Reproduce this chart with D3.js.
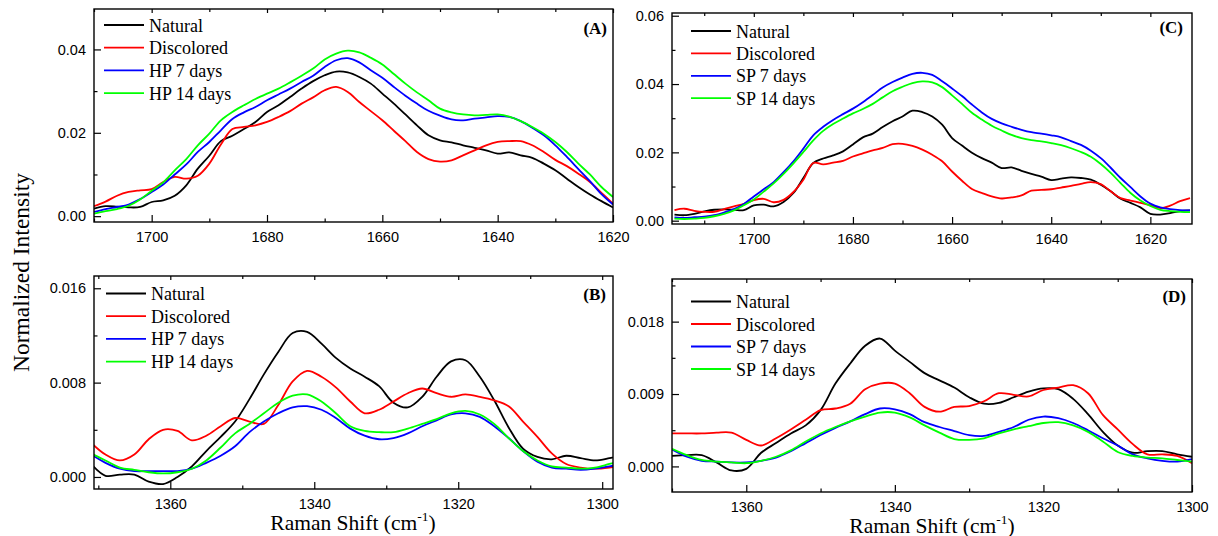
<!DOCTYPE html>
<html>
<head>
<meta charset="utf-8">
<script src="https://cdn.jsdelivr.net/npm/d3@7"></script>
<style>
  body { margin: 0; background: #fff; }
  text { fill: #000; }
</style>
</head>
<body>
<svg id="chart" width="1218" height="536"></svg>
<script>
// ---- data (Raman shift in cm-1, normalized intensity) ----
const namesHP = ["Natural", "Discolored", "HP 7 days", "HP 14 days"];
const namesSP = ["Natural", "Discolored", "SP 7 days", "SP 14 days"];
const colors = ["#000000", "#ff0000", "#0000ff", "#00ff00"];

// (A) amide I, HP
const shiftA = [1710,1708,1706,1704,1702,1700,1698,1696,1694,1692,1690,1688,1686,1684,1682,1680,1678,1676,1674,1672,1670,1668,1666,1664,1662,1660,1658,1656,1654,1652,1650,1648,1646,1644,1642,1640,1638,1636,1634,1632,1630,1628,1626,1624,1622,1620];
const natA = [0.0018,0.0024,0.0023,0.0021,0.0022,0.0034,0.0038,0.0049,0.0074,0.0114,0.0145,0.0180,0.0193,0.0209,0.0226,0.0250,0.0266,0.0286,0.0306,0.0324,0.0338,0.0347,0.0345,0.0334,0.0318,0.0294,0.0270,0.0244,0.0218,0.0194,0.0182,0.0177,0.0170,0.0164,0.0158,0.0150,0.0153,0.0146,0.0140,0.0126,0.0110,0.0090,0.0070,0.0052,0.0036,0.0021];
const disA = [0.0024,0.0035,0.0049,0.0058,0.0062,0.0065,0.0082,0.0094,0.0090,0.0097,0.0126,0.0172,0.0209,0.0214,0.0218,0.0226,0.0238,0.0252,0.0270,0.0285,0.0302,0.0310,0.0298,0.0274,0.0252,0.0230,0.0205,0.0180,0.0154,0.0137,0.0131,0.0134,0.0146,0.0158,0.0170,0.0178,0.0180,0.0180,0.0170,0.0154,0.0135,0.0120,0.0102,0.0082,0.0056,0.0030];
const hp7A = [0.0010,0.0017,0.0022,0.0028,0.0041,0.0058,0.0076,0.0100,0.0124,0.0154,0.0178,0.0206,0.0233,0.0249,0.0262,0.0278,0.0292,0.0306,0.0322,0.0337,0.0358,0.0374,0.0379,0.0369,0.0350,0.0332,0.0310,0.0289,0.0270,0.0253,0.0241,0.0232,0.0230,0.0234,0.0237,0.0240,0.0238,0.0228,0.0212,0.0194,0.0170,0.0142,0.0113,0.0084,0.0053,0.0028];
const hp14A = [0.0006,0.0012,0.0017,0.0025,0.0040,0.0061,0.0081,0.0110,0.0137,0.0170,0.0198,0.0230,0.0250,0.0266,0.0281,0.0294,0.0306,0.0321,0.0337,0.0354,0.0376,0.0390,0.0397,0.0393,0.0380,0.0364,0.0341,0.0318,0.0297,0.0278,0.0258,0.0249,0.0244,0.0242,0.0243,0.0244,0.0239,0.0228,0.0214,0.0198,0.0178,0.0154,0.0126,0.0100,0.0070,0.0046];

// (B) 1300-1370 region, HP
const shiftB = [1371,1369,1367,1365,1363,1361,1359,1357,1355,1353,1351,1349,1347,1345,1343,1341,1339,1337,1335,1333,1331,1329,1327,1325,1323,1321,1319,1317,1315,1313,1311,1309,1307,1305,1303,1301,1299,1297];
const natB = [0.0011,0.0001,0.0002,0.0002,-0.0004,-0.0006,0.0000,0.0009,0.0022,0.0034,0.0047,0.0066,0.0087,0.0106,0.0122,0.0123,0.0113,0.0101,0.0092,0.0085,0.0077,0.0063,0.0059,0.0068,0.0085,0.0098,0.0099,0.0085,0.0065,0.0042,0.0024,0.0017,0.0015,0.0018,0.0016,0.0014,0.0016,0.0019];
const disB = [0.0029,0.0019,0.0014,0.0019,0.0032,0.0040,0.0039,0.0031,0.0035,0.0043,0.0050,0.0047,0.0045,0.0061,0.0081,0.0090,0.0085,0.0076,0.0064,0.0054,0.0057,0.0064,0.0071,0.0075,0.0071,0.0068,0.0070,0.0068,0.0065,0.0060,0.0047,0.0034,0.0020,0.0011,0.0008,0.0007,0.0008,0.0010];
const hp7B = [0.0019,0.0012,0.0007,0.0005,0.0005,0.0005,0.0005,0.0007,0.0012,0.0018,0.0026,0.0038,0.0047,0.0054,0.0059,0.0060,0.0057,0.0050,0.0041,0.0035,0.0032,0.0033,0.0037,0.0043,0.0048,0.0053,0.0054,0.0051,0.0043,0.0033,0.0022,0.0013,0.0008,0.0007,0.0006,0.0007,0.0009,0.0011];
const hp14B = [0.0020,0.0014,0.0008,0.0006,0.0004,0.0003,0.0004,0.0007,0.0014,0.0025,0.0037,0.0045,0.0054,0.0063,0.0069,0.0070,0.0064,0.0054,0.0043,0.0039,0.0038,0.0038,0.0041,0.0045,0.0049,0.0054,0.0056,0.0053,0.0045,0.0033,0.0022,0.0014,0.0009,0.0008,0.0007,0.0008,0.0011,0.0014];

// (C) amide I, SP
const shiftC = [1716,1714,1712,1710,1708,1706,1704,1702,1700,1698,1696,1694,1692,1690,1688,1686,1684,1682,1680,1678,1676,1674,1672,1670,1668,1666,1664,1662,1660,1658,1656,1654,1652,1650,1648,1646,1644,1642,1640,1638,1636,1634,1632,1630,1628,1626,1624,1622,1620,1618,1616,1614,1612];
const natC = [0.0018,0.0016,0.0020,0.0027,0.0032,0.0033,0.0032,0.0031,0.0045,0.0047,0.0042,0.0055,0.0081,0.0125,0.0169,0.0182,0.0191,0.0203,0.0223,0.0244,0.0255,0.0274,0.0291,0.0305,0.0322,0.0318,0.0305,0.0281,0.0242,0.0220,0.0199,0.0183,0.0170,0.0154,0.0156,0.0146,0.0137,0.0129,0.0119,0.0123,0.0127,0.0125,0.0120,0.0105,0.0086,0.0064,0.0052,0.0039,0.0020,0.0018,0.0022,0.0028,0.0030];
const disC = [0.0031,0.0035,0.0029,0.0026,0.0026,0.0034,0.0042,0.0049,0.0060,0.0064,0.0054,0.0061,0.0084,0.0120,0.0169,0.0165,0.0170,0.0175,0.0188,0.0197,0.0206,0.0213,0.0224,0.0225,0.0219,0.0208,0.0193,0.0174,0.0144,0.0117,0.0093,0.0081,0.0071,0.0065,0.0068,0.0074,0.0088,0.0090,0.0092,0.0097,0.0102,0.0108,0.0113,0.0107,0.0086,0.0066,0.0059,0.0052,0.0045,0.0037,0.0044,0.0057,0.0066];
const sp7C = [0.0010,0.0008,0.0010,0.0012,0.0016,0.0024,0.0034,0.0049,0.0071,0.0092,0.0113,0.0142,0.0174,0.0211,0.0250,0.0275,0.0295,0.0312,0.0328,0.0347,0.0368,0.0390,0.0406,0.0419,0.0430,0.0433,0.0427,0.0408,0.0387,0.0365,0.0340,0.0317,0.0298,0.0285,0.0275,0.0266,0.0259,0.0255,0.0250,0.0244,0.0233,0.0222,0.0205,0.0183,0.0155,0.0125,0.0098,0.0071,0.0050,0.0039,0.0034,0.0031,0.0030];
const sp14C = [0.0006,0.0005,0.0006,0.0008,0.0013,0.0020,0.0030,0.0045,0.0062,0.0085,0.0109,0.0137,0.0168,0.0201,0.0235,0.0263,0.0283,0.0299,0.0314,0.0327,0.0342,0.0361,0.0379,0.0392,0.0403,0.0408,0.0405,0.0391,0.0367,0.0342,0.0316,0.0296,0.0278,0.0264,0.0251,0.0242,0.0236,0.0232,0.0227,0.0221,0.0212,0.0201,0.0187,0.0166,0.0140,0.0110,0.0081,0.0059,0.0043,0.0032,0.0028,0.0026,0.0025];

// (D) 1300-1370 region, SP
const shiftD = [1370,1368,1366,1364,1362,1360,1358,1356,1354,1352,1350,1348,1346,1344,1342,1340,1338,1336,1334,1332,1330,1328,1326,1324,1322,1320,1318,1316,1314,1312,1310,1308,1306,1304,1302,1300];
const natD = [0.0013,0.0014,0.0014,0.0005,-0.0005,-0.0003,0.0017,0.0029,0.0041,0.0051,0.0070,0.0103,0.0128,0.0150,0.0159,0.0144,0.0130,0.0116,0.0107,0.0098,0.0086,0.0078,0.0079,0.0086,0.0093,0.0097,0.0096,0.0084,0.0065,0.0043,0.0026,0.0017,0.0019,0.0019,0.0015,0.0012];
const disD = [0.0041,0.0041,0.0041,0.0042,0.0042,0.0033,0.0026,0.0035,0.0046,0.0058,0.0070,0.0072,0.0078,0.0096,0.0103,0.0103,0.0091,0.0074,0.0068,0.0074,0.0075,0.0081,0.0091,0.0089,0.0087,0.0095,0.0098,0.0101,0.0091,0.0064,0.0046,0.0028,0.0015,0.0015,0.0013,0.0004];
const sp7D = [0.0021,0.0012,0.0007,0.0006,0.0005,0.0005,0.0007,0.0011,0.0019,0.0029,0.0039,0.0048,0.0056,0.0065,0.0072,0.0071,0.0065,0.0055,0.0049,0.0044,0.0039,0.0038,0.0043,0.0049,0.0058,0.0062,0.0060,0.0054,0.0045,0.0035,0.0026,0.0015,0.0010,0.0007,0.0006,0.0009];
const sp14D = [0.0022,0.0014,0.0008,0.0006,0.0005,0.0004,0.0007,0.0012,0.0020,0.0031,0.0041,0.0049,0.0056,0.0062,0.0067,0.0067,0.0061,0.0051,0.0042,0.0034,0.0033,0.0035,0.0041,0.0046,0.0050,0.0054,0.0055,0.0051,0.0043,0.0031,0.0018,0.0013,0.0011,0.0010,0.0008,0.0006];

// ---- panel layout ----
const panels = [
  { tag: "(A)", box: [94, 9, 613, 222], xDom: [1710, 1620], yDom: [-0.0014, 0.0497],
    xMajor: [1700, 1680, 1660, 1640, 1620], xMinor: [1710, 1690, 1670, 1650, 1630],
    yMajor: [0, 0.02, 0.04], yMinor: [0.01, 0.03], fmt: ".2f",
    x: shiftA, ys: [natA, disA, hp7A, hp14A], names: namesHP,
    leg: [104, 25, 22.7], tagPos: [607, 34] },
  { tag: "(B)", box: [94, 276, 613, 489], xDom: [1370.6, 1298.5], yDom: [-0.00102, 0.01704],
    xMajor: [1360, 1340, 1320, 1300], xMinor: [1370, 1350, 1330, 1310],
    yMajor: [0, 0.008, 0.016], yMinor: [0.004, 0.012], fmt: ".3f",
    x: shiftB, ys: [natB, disB, hp7B, hp14B], names: namesHP,
    leg: [106, 293.5, 22.7], tagPos: [606, 300] },
  { tag: "(C)", box: [672, 13, 1192, 224], xDom: [1716.5, 1611.6], yDom: [-0.00097, 0.0608],
    xMajor: [1700, 1680, 1660, 1640, 1620], xMinor: [1710, 1690, 1670, 1650, 1630],
    yMajor: [0, 0.02, 0.04, 0.06], yMinor: [0.01, 0.03, 0.05], fmt: ".2f",
    x: shiftC, ys: [natC, disC, sp7C, sp14C], names: namesSP,
    leg: [691, 31, 22.4], tagPos: [1183, 33] },
  { tag: "(D)", box: [672, 279, 1192, 492], xDom: [1370, 1300], yDom: [-0.00318, 0.0233],
    xMajor: [1360, 1340, 1320, 1300], xMinor: [1370, 1350, 1330, 1310],
    yMajor: [0, 0.009, 0.018], yMinor: [0.0045, 0.0135, 0.0225], fmt: ".3f",
    x: shiftD, ys: [natD, disD, sp7D, sp14D], names: namesSP,
    leg: [691, 301.5, 22.5], tagPos: [1186, 302] }
];

const svg = d3.select("#chart");
const tickFont = "'Liberation Sans', Arial, sans-serif";
const serif = "'Liberation Serif', 'Times New Roman', serif";

panels.forEach((p, i) => {
  const [l, t, r, b] = p.box;
  const x = d3.scaleLinear().domain(p.xDom).range([l, r]);
  const y = d3.scaleLinear().domain(p.yDom).range([b, t]);

  const clipId = "clip" + i;
  svg.append("clipPath").attr("id", clipId)
    .append("rect").attr("x", l).attr("y", t).attr("width", r - l).attr("height", b - t);

  // curves
  const line = d3.line()
    .x((d, k) => x(p.x[k]))
    .y(d => y(d))
    .curve(d3.curveCatmullRom.alpha(0.5));

  svg.append("g").attr("clip-path", `url(#${clipId})`)
    .selectAll("path")
    .data(p.ys)
    .join("path")
      .attr("d", line)
      .attr("fill", "none")
      .attr("stroke", (d, k) => colors[k])
      .attr("stroke-width", 1.8)
      .attr("stroke-linejoin", "round");

  // bottom axis
  const gx = svg.append("g").attr("transform", `translate(0,${b})`);
  gx.call(d3.axisBottom(x).tickValues(p.xMajor).tickSize(-7).tickPadding(10).tickFormat(d3.format("d")));
  gx.append("g").call(d3.axisBottom(x).tickValues(p.xMinor).tickSize(-3.5).tickFormat(""));
  // top ticks
  const gt = svg.append("g").attr("transform", `translate(0,${t})`);
  gt.call(d3.axisTop(x).tickValues(p.xMajor).tickSize(-4).tickFormat(""));
  gt.append("g").call(d3.axisTop(x).tickValues(p.xMinor).tickSize(-3).tickFormat(""));
  // left axis
  const gy = svg.append("g").attr("transform", `translate(${l},0)`);
  gy.call(d3.axisLeft(y).tickValues(p.yMajor).tickSize(-7).tickPadding(8).tickFormat(d3.format(p.fmt)));
  gy.append("g").call(d3.axisLeft(y).tickValues(p.yMinor).tickSize(-3.5).tickFormat(""));

  svg.selectAll(".domain").remove();
  [gx, gt, gy].forEach(g => {
    g.selectAll("line").attr("stroke", "#000").attr("stroke-width", 1.2);
    g.selectAll("text").style("font-family", tickFont).style("font-size", "14.5px").attr("fill", "#111");
  });

  // frame
  svg.append("rect")
    .attr("x", l).attr("y", t).attr("width", r - l).attr("height", b - t)
    .attr("fill", "none").attr("stroke", "#000").attr("stroke-width", 1.4);

  // legend
  const [lx, ly, step] = p.leg;
  const lg = svg.append("g");
  p.names.forEach((n, k) => {
    lg.append("line")
      .attr("x1", lx).attr("x2", lx + 40)
      .attr("y1", ly + k * step).attr("y2", ly + k * step)
      .attr("stroke", colors[k]).attr("stroke-width", 1.8);
    lg.append("text")
      .attr("x", lx + 45).attr("y", ly + k * step + 6.5)
      .style("font-family", serif).style("font-size", "18px")
      .text(n);
  });

  // panel tag
  svg.append("text")
    .attr("x", p.tagPos[0]).attr("y", p.tagPos[1])
    .attr("text-anchor", "end")
    .style("font-family", serif).style("font-size", "17px").style("font-weight", "bold")
    .text(p.tag);
});

// axis titles
svg.append("text")
  .attr("transform", "translate(29,272.5) rotate(-90)")
  .attr("text-anchor", "middle")
  .style("font-family", serif).style("font-size", "23.5px")
  .text("Normalized Intensity");

[[353, 530], [932, 532.5]].forEach(([cx, cy]) => {
  const tt = svg.append("text")
    .attr("x", cx).attr("y", cy)
    .attr("text-anchor", "middle")
    .style("font-family", serif).style("font-size", "21.5px");
  tt.append("tspan").text("Raman Shift (cm");
  tt.append("tspan").attr("dy", -9).style("font-size", "13.5px").text("-1");
  tt.append("tspan").attr("dy", 9).text(")");
});
</script>
</body>
</html>
